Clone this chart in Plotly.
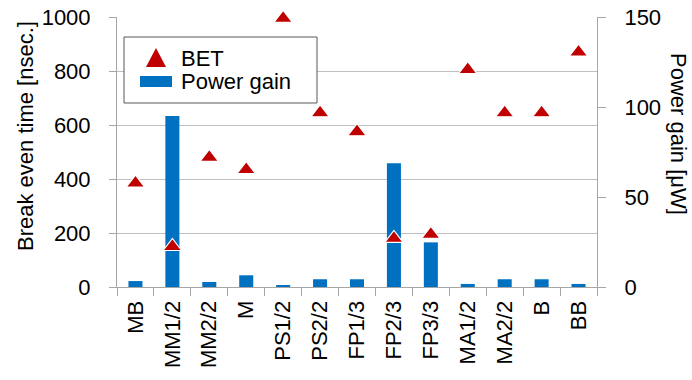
import plotly.graph_objects as go

# Benchmark categories
categories = ["MB", "MM1/2", "MM2/2", "M", "PS1/2", "PS2/2", "FP1/3",
              "FP2/3", "FP3/3", "MA1/2", "MA2/2", "B", "BB"]

# Break even time [nsec.] (left axis)
bet_ns = [385, 150, 480, 435, 995, 645, 575, 180, 195, 805, 645, 645, 870]

# Power gain [uW] (right axis)
power_gain_uw = [3.3, 95, 2.8, 6.5, 1.0, 4.3, 4.3, 68.7, 24.8, 1.7, 4.3, 4.3, 1.7]

bet_ticks = [0, 200, 400, 600, 800, 1000]
gain_ticks = [0, 50, 100, 150]

BLUE = "#0070C0"
RED = "#C00000"
GRID = "#BFBFBF"
AXIS = "#A6A6A6"
FONT = dict(family="Liberation Sans, Arial, sans-serif", size=22, color="#000000")

W, H = 692, 380
L, R, T, B = 117, 95, 17, 93
PW, PH = W - L - R, H - T - B


def px_x(x):
    return (x - L) / PW


def px_y(y):
    return (H - B - y) / PH


fig = go.Figure()

fig.add_trace(go.Bar(
    x=categories, y=power_gain_uw, name="Power gain",
    marker=dict(color=BLUE, line=dict(width=0)),
    width=0.38, yaxis="y", showlegend=False,
))

fig.add_trace(go.Scatter(
    x=categories, y=bet_ns, name="BET", mode="markers",
    marker=dict(symbol="triangle-up", size=16, color=RED,
                line=dict(color="white", width=1.2)),
    yaxis="y2", showlegend=False, cliponaxis=False,
))

# Legend box drawn with shapes
shapes = [
    dict(type="rect", xref="paper", yref="paper",
         x0=px_x(124), x1=px_x(317), y0=px_y(103), y1=px_y(37),
         line=dict(color="#595959", width=1), fillcolor="white", layer="above"),
    dict(type="path", xref="paper", yref="paper",
         path=f"M{px_x(146)},{px_y(67)} L{px_x(166)},{px_y(67)} L{px_x(156)},{px_y(48)} Z",
         line=dict(width=0), fillcolor=RED, layer="above"),
    dict(type="rect", xref="paper", yref="paper",
         x0=px_x(140), x1=px_x(172), y0=px_y(87), y1=px_y(76),
         line=dict(width=0), fillcolor=BLUE, layer="above"),
]

annotations = [
    dict(text="BET", xref="paper", yref="paper", x=px_x(179), y=px_y(58),
         xanchor="left", yanchor="middle", showarrow=False, font=FONT),
    dict(text="Power gain", xref="paper", yref="paper", x=px_x(179), y=px_y(82),
         xanchor="left", yanchor="middle", showarrow=False, font=FONT),
    dict(text="Break even time [nsec.]", xref="paper", yref="paper",
         x=px_x(25), y=px_y(136), xanchor="center", yanchor="middle",
         textangle=-90, showarrow=False, font=FONT),
    dict(text="Power gain [μW]", xref="paper", yref="paper",
         x=px_x(679), y=px_y(134), xanchor="center", yanchor="middle",
         textangle=90, showarrow=False, font=FONT),
]

fig.update_layout(
    width=W, height=H,
    margin=dict(l=L, r=R, t=T, b=B, pad=0, autoexpand=False),
    paper_bgcolor="white", plot_bgcolor="white",
    font=FONT,
    showlegend=False,
    bargap=0.62,
    xaxis=dict(
        type="category", categoryorder="array", categoryarray=categories,
        range=[-0.5, len(categories) - 0.5], automargin=False,
        showline=True, linecolor=AXIS, linewidth=1,
        ticks="outside", tickson="boundaries", ticklen=8, tickcolor=AXIS,
        tickangle=-90, tickfont=FONT, showgrid=False, ticklabelstandoff=4,
    ),
    yaxis=dict(
        side="right", range=[0, 150], tickvals=gain_ticks, automargin=False,
        showline=True, linecolor=AXIS, linewidth=1,
        ticks="outside", ticklen=8, tickcolor=AXIS, tickfont=FONT,
        showgrid=False, zeroline=False, ticklabelstandoff=14,
    ),
    yaxis2=dict(
        overlaying="y", side="left", range=[0, 1000], tickvals=bet_ticks,
        automargin=False,
        showline=True, linecolor=AXIS, linewidth=1,
        ticks="outside", ticklen=7, tickcolor=AXIS, tickfont=FONT,
        showgrid=True, gridcolor=GRID, gridwidth=1, zeroline=False,
        ticklabelstandoff=14,
    ),
    shapes=shapes,
    annotations=annotations,
)

fig.write_html("out.html")
